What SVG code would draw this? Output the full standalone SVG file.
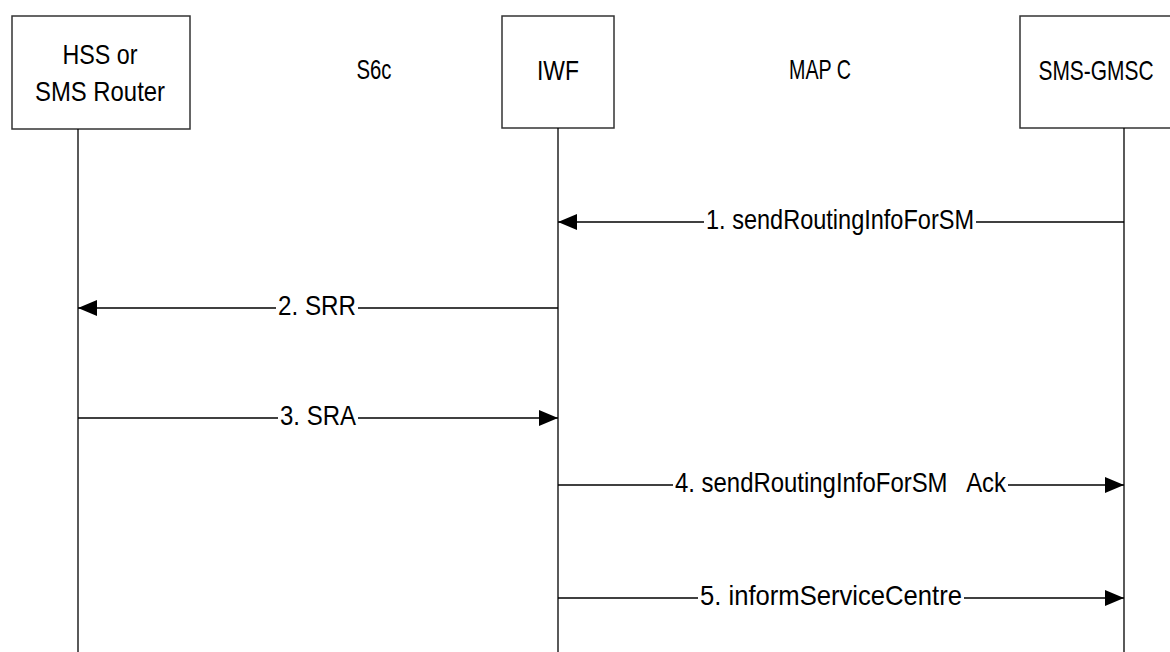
<svg xmlns="http://www.w3.org/2000/svg" width="1170" height="652" viewBox="0 0 1170 652">
<style>
.box{fill:#fff;stroke:#333;stroke-width:1.5}
.life{stroke:#000;stroke-width:1.3}
.msg{stroke:#000;stroke-width:1.3;fill:none}
text{font-family:"Liberation Sans",Arial,sans-serif;font-size:28px;fill:#000}
.c{text-anchor:middle}
</style>
<defs>
<marker id="ah" markerUnits="userSpaceOnUse" markerWidth="20" markerHeight="18" refX="19" refY="8" orient="auto">
<path d="M0,0 L19,8 L0,16 z" fill="#000"/>
</marker>
</defs>
<rect width="1170" height="652" fill="#fff"/>
<g id="hss">
<rect class="box" x="12" y="16" width="178" height="113"/>
<text class="c" x="100" y="64" textLength="75" lengthAdjust="spacingAndGlyphs">HSS or</text>
<text class="c" x="100" y="101" textLength="130" lengthAdjust="spacingAndGlyphs">SMS Router</text>
<line class="life" x1="78" y1="129" x2="78" y2="652"/>
</g>
<g id="s6c">
<text class="c" x="374" y="79" textLength="35" lengthAdjust="spacingAndGlyphs">S6c</text>
</g>
<g id="iwf">
<rect class="box" x="502" y="16" width="112" height="112"/>
<text class="c" x="558" y="80" textLength="42" lengthAdjust="spacingAndGlyphs">IWF</text>
<line class="life" x1="558" y1="128" x2="558" y2="652"/>
</g>
<g id="mapc">
<text class="c" x="820" y="79" textLength="62" lengthAdjust="spacingAndGlyphs">MAP C</text>
</g>
<g id="gmsc">
<rect class="box" x="1020" y="16" width="152" height="112"/>
<text class="c" x="1096" y="80" textLength="115" lengthAdjust="spacingAndGlyphs">SMS-GMSC</text>
<line class="life" x1="1124" y1="128" x2="1124" y2="652"/>
</g>
<g id="connectors">
<line class="msg" x1="704" y1="222" x2="558" y2="222" marker-end="url(#ah)"/>
<line class="msg" x1="1124" y1="222" x2="976" y2="222"/>
<text x="706" y="229" textLength="268" lengthAdjust="spacingAndGlyphs">1. sendRoutingInfoForSM</text>
<line class="msg" x1="276" y1="308" x2="78" y2="308" marker-end="url(#ah)"/>
<line class="msg" x1="558" y1="308" x2="358" y2="308"/>
<text x="278" y="315" textLength="78" lengthAdjust="spacingAndGlyphs">2. SRR</text>
<line class="msg" x1="78" y1="418" x2="278" y2="418"/>
<line class="msg" x1="358" y1="418" x2="558" y2="418" marker-end="url(#ah)"/>
<text x="280" y="425" textLength="76" lengthAdjust="spacingAndGlyphs">3. SRA</text>
<line class="msg" x1="558" y1="485" x2="673" y2="485"/>
<line class="msg" x1="1008" y1="485" x2="1124" y2="485" marker-end="url(#ah)"/>
<text x="675" y="492" textLength="331" lengthAdjust="spacingAndGlyphs" xml:space="preserve">4. sendRoutingInfoForSM   Ack</text>
<line class="msg" x1="558" y1="598" x2="698" y2="598"/>
<line class="msg" x1="964" y1="598" x2="1124" y2="598" marker-end="url(#ah)"/>
<text x="700" y="605" textLength="262" lengthAdjust="spacingAndGlyphs">5. informServiceCentre</text>
</g>
</svg>
